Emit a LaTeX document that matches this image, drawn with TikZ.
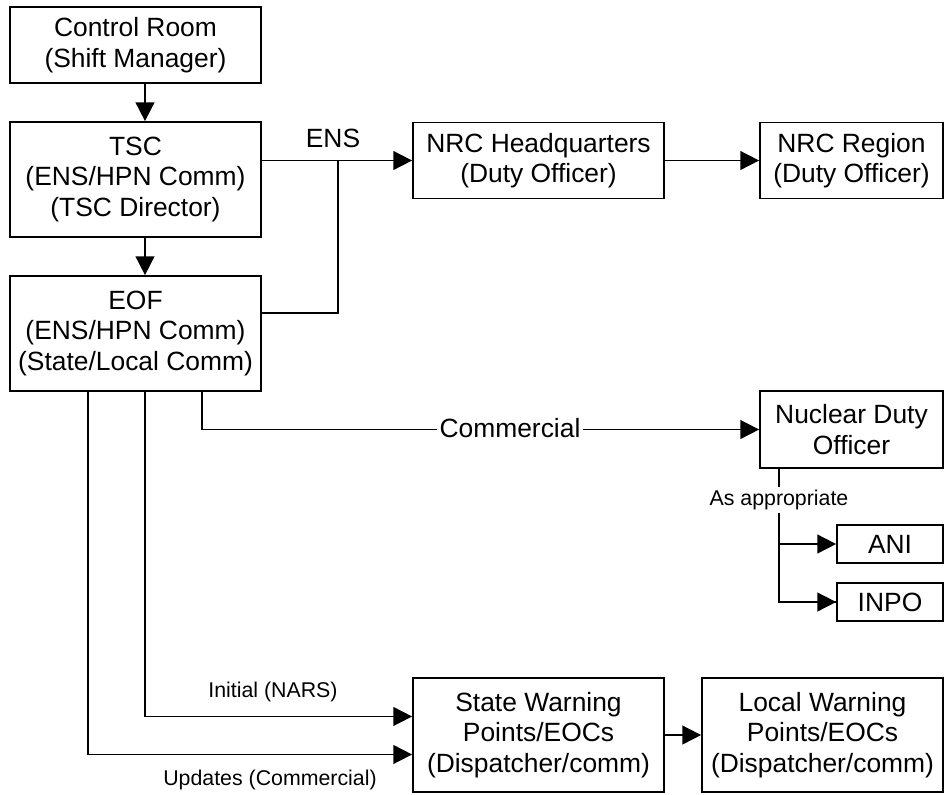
\documentclass[tikz,border=0pt]{standalone}
\usepackage{fontspec}
\setmainfont{Liberation Sans}
\usetikzlibrary{arrows.meta,calc}
\begin{document}
\begin{tikzpicture}[x=0.75pt,y=-0.75pt,
  box/.style={draw,line width=1.3pt,inner sep=0pt,align=center,font=\fontsize{19.8}{23}\selectfont},
  conn/.style={line width=1.3pt},
  arr/.style={conn,-{Triangle[length=14pt,width=14pt]}},
  lbl/.style={font=\fontsize{19.8}{23}\selectfont,inner sep=2pt},
  small/.style={font=\fontsize{16}{19}\selectfont,inner sep=2pt}]
\useasboundingbox (0,0) rectangle (945,794);

% boxes
\node[box,minimum width=188.25pt,minimum height=57pt] (CR) at (135.5,45) {Control Room\\(Shift Manager)};
\node[box,minimum width=188.25pt,minimum height=86.25pt] (TSC) at (135.5,179.5) {TSC\\(ENS/HPN Comm)\\(TSC Director)};
\node[box,minimum width=188.25pt,minimum height=86.25pt] (EOF) at (135.5,333.5) {EOF\\(ENS/HPN Comm)\\(State/Local Comm)};
\node[box,minimum width=188.25pt,minimum height=57pt] (HQ) at (538.5,160.5) {NRC Headquarters\\(Duty Officer)};
\node[box,minimum width=137.25pt,minimum height=57pt] (RG) at (851.5,160.5) {NRC Region\\(Duty Officer)};
\node[box,minimum width=137.25pt,minimum height=57.75pt] (NDO) at (851.5,429.5) {Nuclear Duty\\Officer};
\node[box,minimum width=79.5pt,minimum height=28.5pt] (ANI) at (890,544) {ANI};
\node[box,minimum width=79.5pt,minimum height=28.5pt] (INPO) at (890,602) {INPO};
\node[box,minimum width=188.25pt,minimum height=85.5pt] (SW) at (538.5,735) {State Warning\\Points/EOCs\\(Dispatcher/comm)};
\node[box,minimum width=180.75pt,minimum height=85.5pt] (LW) at (822.5,735) {Local Warning\\Points/EOCs\\(Dispatcher/comm)};

% helper coordinates
\coordinate (xa) at (88,0);
\coordinate (xb) at (145,0);
\coordinate (xc) at (202,0);
\coordinate (J) at (338,160);
\coordinate (yE) at (0,313);
\coordinate (xn) at (779,0);

% connectors
\draw[arr] (CR.south -| xb) -- (TSC.north -| xb);
\draw[arr] (TSC.south -| xb) -- (EOF.north -| xb);
\draw[arr] (TSC.east |- HQ.west) -- (HQ.west);
\draw[conn] (EOF.east |- yE) -| (J);
\node[lbl] (ens) at (333,138) {ENS};
\draw[arr] (HQ.east) -- (RG.west);

\draw[arr] (EOF.south -| xc) |- (NDO.west);
\node[lbl,fill=white] (com) at (510,428.5) {Commercial};

\draw[conn] (NDO.south -| xn) |- (INPO.west);
\draw[arr] (xn |- INPO.west) -- (INPO.west);
\draw[arr] (xn |- ANI.west) -- (ANI.west);
\node[small,fill=white] (asap) at (779,500) {As appropriate};

\draw[arr] (EOF.south -| xb) |- ([yshift=13.9pt]SW.west);
\draw[arr] (EOF.south -| xa) |- ([yshift=-14.6pt]SW.west);
\node[small] (ini) at (273,692) {Initial (NARS)};
\node[small] (upd) at (270,780) {Updates (Commercial)};

\draw[arr] (SW.east) -- (LW.west);
\end{tikzpicture}
\end{document}
